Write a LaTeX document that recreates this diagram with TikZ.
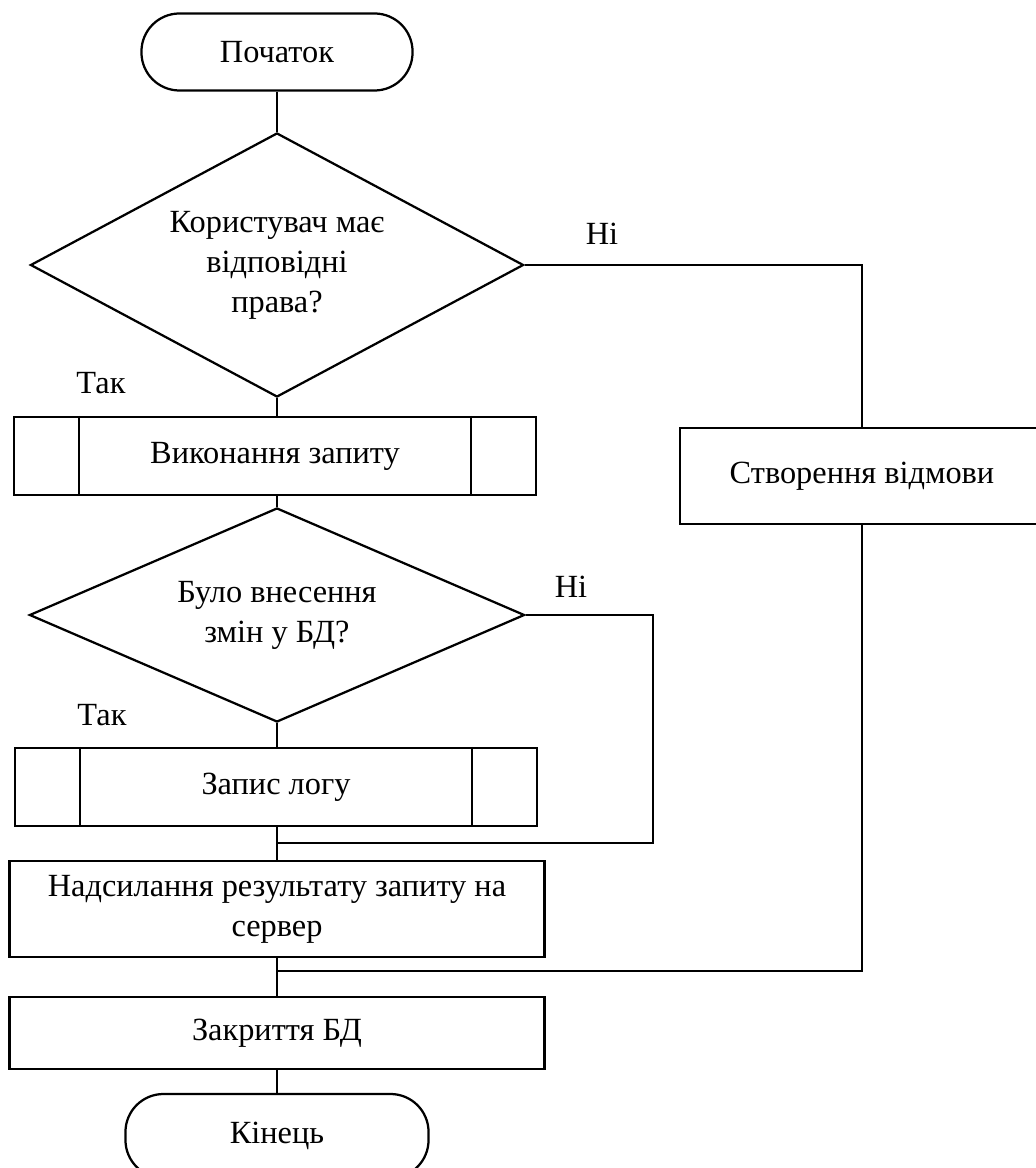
\documentclass[tikz,border=0pt]{standalone}
\usepackage{fontspec}
\setmainfont{Liberation Serif}
\usetikzlibrary{shapes.geometric,calc}

\begin{document}
\begin{tikzpicture}[
  x=0.025cm, y=-0.025cm,
  font=\fontsize{23pt}{28.5pt}\selectfont,
  conn/.style={line width=1.6pt},
  term/.style={draw, line width=1.6pt, rounded corners=0.95cm, minimum height=1.925cm, align=center},
  dec/.style={draw, line width=1.6pt, diamond, inner sep=0pt, align=center},
  proc/.style={draw, line width=1.6pt, rectangle, minimum width=13.375cm, align=center},
  sub/.style={draw, line width=1.6pt, rectangle, minimum width=13.05cm, minimum height=1.95cm, align=center},
  lbl/.style={inner sep=0pt}
]
\useasboundingbox (0,0) rectangle (1036,1168);

\node[term, minimum width=6.775cm] (start) at (277,52) {Початок};
\node[dec, minimum width=12.325cm, minimum height=6.6cm, shape aspect=1.87] (dec1) at (277,265)
  {Користувач має\\відповідні\\права?};
\node[sub] (p1) at (275,456) {Виконання запиту};
\node[dec, minimum width=12.375cm, minimum height=5.35cm, shape aspect=2.3] (dec2) at (277,615)
  {Було внесення\\змін у БД?};
\node[sub] (p2) at (276,787) {Запис логу};
\node[proc, minimum height=2.4cm] (send) at (277,909) {Надсилання результату запиту на\\сервер};
\node[proc, minimum height=1.8cm] (close) at (277,1033) {Закриття БД};
\node[term, minimum width=7.575cm, minimum height=2.1cm] (end) at (277,1136) {Кінець};
\node[draw, line width=1.6pt, minimum width=9.1cm, minimum height=2.4cm] (refuse) at (862,476) {Створення відмови};

% labels
\node[lbl] (no1) at (602,234) {Ні};
\node[lbl] (yes1) at (101,383) {Так};
\node[lbl] (no2) at (571,587) {Ні};
\node[lbl] (yes2) at (102,715) {Так};

% subroutine side bars
\draw[conn] ([xshift=1.65cm]p1.north west) -- ([xshift=1.65cm]p1.south west);
\draw[conn] ([xshift=-1.65cm]p1.north east) -- ([xshift=-1.65cm]p1.south east);
\draw[conn] ([xshift=1.65cm]p2.north west) -- ([xshift=1.65cm]p2.south west);
\draw[conn] ([xshift=-1.65cm]p2.north east) -- ([xshift=-1.65cm]p2.south east);

\coordinate (j1) at (277,843);
\coordinate (c1) at (653,843);
\coordinate (j2) at (277,971);

\draw[conn] (start) -- (dec1);
\draw[conn] (dec1.south) -- (dec1.south |- p1.north);
\draw[conn] (p1.south -| dec2.north) -- (dec2.north);
\draw[conn] (dec2.south) -- (dec2.south |- p2.north);
\draw[conn] (p2.south -| send.north) -- (send.north);
\draw[conn] (dec2.east) -| (c1) -- (j1);
\draw[conn] (dec1.east) -| (refuse.north);
\draw[conn] (refuse.south) |- (j2);
\draw[conn] (send) -- (close);
\draw[conn] (close) -- (end);
\end{tikzpicture}
\end{document}
